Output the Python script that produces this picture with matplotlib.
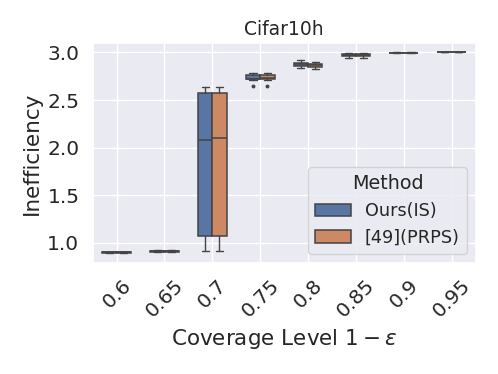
import matplotlib
matplotlib.use("Agg")
import matplotlib.pyplot as plt
import seaborn as sns
from matplotlib.patches import Patch

sns.set_theme(style="darkgrid")

coverage = ["0.6", "0.65", "0.7", "0.75", "0.8", "0.85", "0.9", "0.95"]
methods = ["Ours(IS)", "[49](PRPS)"]
colors = ["#5875a4", "#cc8963"]

# box statistics per coverage level
ours_med = [0.902, 0.915, 2.084, 2.725, 2.874, 2.972, 2.998, 3.0]
ours_q1 = [0.900, 0.910, 1.077, 2.718, 2.859, 2.962, 2.996, 3.0]
ours_q3 = [0.905, 0.920, 2.574, 2.760, 2.891, 2.985, 2.999, 3.0]
ours_lo = [0.895, 0.905, 0.920, 2.710, 2.832, 2.938, 2.991, 3.0]
ours_hi = [0.910, 0.925, 2.640, 2.780, 2.916, 2.993, 3.0, 3.0]
ours_fliers = [[], [], [], [2.652], [], [], [], []]

prps_med = [0.902, 0.915, 2.100, 2.728, 2.863, 2.972, 2.998, 3.0]
prps_q1 = [0.900, 0.910, 1.077, 2.718, 2.846, 2.962, 2.996, 3.0]
prps_q3 = [0.905, 0.920, 2.574, 2.760, 2.880, 2.985, 2.999, 3.0]
prps_lo = [0.895, 0.905, 0.920, 2.710, 2.821, 2.938, 2.991, 3.0]
prps_hi = [0.910, 0.925, 2.640, 2.780, 2.898, 2.993, 3.0, 3.0]
prps_fliers = [[], [], [], [2.652], [], [], [], []]


def make_stats(med, q1, q3, lo, hi, fliers):
    return [dict(med=m, q1=a, q3=b, whislo=l, whishi=h, fliers=f)
            for m, a, b, l, h, f in zip(med, q1, q3, lo, hi, fliers)]


all_stats = [
    make_stats(ours_med, ours_q1, ours_q3, ours_lo, ours_hi, ours_fliers),
    make_stats(prps_med, prps_q1, prps_q3, prps_lo, prps_hi, prps_fliers),
]

fig = plt.figure(figsize=(4.98, 3.74), dpi=100)
ax = fig.add_axes([0.186, 0.2976, 0.769, 0.5864])

edge = "#444444"
box_w = 0.3
for k, stats in enumerate(all_stats):
    pos = [i + (k - 0.5) * box_w for i in range(len(coverage))]
    ax.bxp(stats, positions=pos, widths=box_w, patch_artist=True,
           manage_ticks=False,
           boxprops=dict(facecolor=colors[k], edgecolor=edge, linewidth=1.1),
           medianprops=dict(color=edge, linewidth=1.1),
           whiskerprops=dict(color=edge, linewidth=1.0),
           capprops=dict(color=edge, linewidth=1.0),
           flierprops=dict(marker="o", markersize=1.8, markerfacecolor=edge,
                           markeredgecolor=edge))

ax.set_xlim(-0.5, len(coverage) - 0.5)
ax.set_ylim(0.793, 3.095)
ax.set_xticks(range(len(coverage)))
ax.set_xticklabels(coverage, rotation=45, fontsize=14.5)
ax.set_yticks([1.0, 1.5, 2.0, 2.5, 3.0])
ax.tick_params(axis="y", labelsize=14.5)
ax.set_xlabel(r"Coverage Level $1-\varepsilon$", fontsize=15.5)
ax.set_ylabel("Inefficiency", fontsize=15.5)
ax.set_title("Cifar10h", fontsize=13.5)

handles = [Patch(facecolor=c, edgecolor=edge, linewidth=1.1) for c in colors]
ax.legend(handles, methods, title="Method", loc="lower right",
          fontsize=12.7, title_fontsize=13.8)

fig.savefig("out.png", dpi=100)
